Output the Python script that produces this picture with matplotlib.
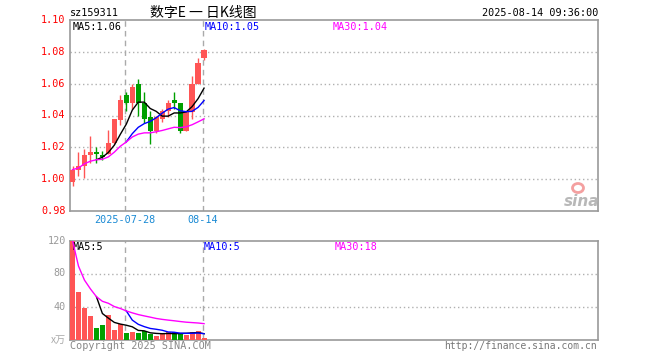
import numpy as np
import matplotlib
matplotlib.use("Agg")
import matplotlib.pyplot as plt
from matplotlib.patches import Ellipse

# daily K data (23 sessions, 2025-07-15 .. 2025-08-14)
opens = [0.998, 1.006, 1.008, 1.015, 1.017, 1.015, 1.016, 1.023, 1.037, 1.053, 1.048, 1.060,
         1.048, 1.039, 1.030, 1.038, 1.043, 1.050, 1.048, 1.030, 1.042, 1.060, 1.076]
closes = [1.006, 1.008, 1.015, 1.017, 1.016, 1.014, 1.023, 1.038, 1.050, 1.048, 1.058, 1.048,
          1.038, 1.030, 1.039, 1.043, 1.048, 1.048, 1.030, 1.042, 1.060, 1.073, 1.081]
highs = [1.008, 1.017, 1.019, 1.027, 1.020, 1.018, 1.031, 1.038, 1.053, 1.055, 1.060, 1.063,
         1.055, 1.043, 1.040, 1.044, 1.050, 1.055, 1.048, 1.043, 1.065, 1.076, 1.082]
lows = [0.996, 1.002, 1.001, 1.010, 1.010, 1.012, 1.016, 1.022, 1.034, 1.043, 1.044, 1.040,
        1.035, 1.022, 1.029, 1.036, 1.039, 1.044, 1.029, 1.030, 1.038, 1.060, 1.075]

# price moving averages (None = not drawn yet)
ma5 = [None] * 4 + [1.0122, 1.0138, 1.0168, 1.0214, 1.0282, 1.0346, 1.0434, 1.0484, 1.0484,
                    1.0444, 1.0426, 1.0396, 1.0396, 1.0416, 1.0416, 1.0422, 1.0456, 1.0506, 1.0572]
ma10 = [None] * 9 + [1.0234, 1.0286, 1.0326, 1.0349, 1.0363, 1.0386, 1.0415, 1.0440, 1.0450,
                     1.0430, 1.0424, 1.0426, 1.0451, 1.0494]
ma30 = [1.006, 1.007, 1.0097, 1.0113, 1.0122, 1.0125, 1.0140, 1.0170, 1.0207, 1.0234, 1.0265,
        1.0283, 1.0291, 1.0291, 1.0298, 1.0306, 1.0316, 1.0326, 1.0324, 1.0329, 1.0342, 1.0360, 1.0379]

# volume (x万)
volumes = [120, 58, 38, 29, 14.5, 18, 30, 12, 19, 7.7, 8.5, 7.7, 9.7, 6.9, 4, 6.9, 8.9, 8.9,
           7.3, 5.7, 9.3, 10.9, 1.6]
vma5 = [None] * 4 + [51.9, 31.5, 25.9, 20.7, 18.7, 17.3, 15.4, 11.0, 10.5, 8.1, 7.4, 7.0, 7.3,
                     7.1, 7.2, 7.5, 8.0, 8.4, 7.0]
vma10 = [None] * 9 + [34.6, 23.5, 18.4, 15.6, 13.4, 12.4, 11.2, 9.1, 8.8, 7.7, 7.5, 7.5, 7.9, 7.0]
vma30 = [120, 89, 72, 61.3, 51.9, 46.3, 43.9, 39.9, 37.6, 34.6, 32.3, 30.2, 28.6, 27.1, 25.5,
         24.4, 23.5, 22.7, 21.8, 21.0, 20.5, 20.0, 19.2]

price_ticks = [0.98, 1.00, 1.02, 1.04, 1.06, 1.08, 1.10]
vol_ticks = [40, 80, 120]
date_labels = {9: "2025-07-28", 22: "08-14"}

RED = "#ff5555"
GREEN = "#00a000"
GRID = "#b0b0b0"
FRAME = "#999999"
MONO = "DejaVu Sans Mono"
CJK = ["Noto Sans CJK SC", "DejaVu Sans"]
FS = 7.3

W, H = 660, 360
fig = plt.figure(figsize=(W / 100, H / 100), dpi=100)


def px_axes(l, t, r, b):
    return fig.add_axes([l / W, 1 - b / H, (r - l) / W, (b - t) / H])


ax = px_axes(70, 20, 598, 211)
axv = px_axes(70, 240.5, 598, 339.5)

n = len(closes)
x = np.arange(n)
step = 5.98
xlim = (-2.5 / step, -2.5 / step + 528 / step)
colors = [RED if c >= o else GREEN for o, c in zip(opens, closes)]

# candles
bottoms = [min(o, c) for o, c in zip(opens, closes)]
heights = [max(abs(c - o), 0.0003) for o, c in zip(opens, closes)]
ax.vlines(x, lows, highs, colors=colors, lw=1, zorder=3)
ax.bar(x, heights, bottom=bottoms, width=0.88, color=colors, lw=0, zorder=4)


def draw_ma(a, vals, col):
    xs = [i for i, v in enumerate(vals) if v is not None]
    ys = [v for v in vals if v is not None]
    a.plot(xs, ys, color=col, lw=1, zorder=5)


draw_ma(ax, ma5, "black")
draw_ma(ax, ma10, "#0000ff")
draw_ma(ax, ma30, "#ff00ff")

ax.set_xlim(*xlim)
ax.set_ylim(0.98, 1.10)
for v in price_ticks[1:-1]:
    ax.axhline(v, color=GRID, lw=1, ls=(0, (1, 2)), zorder=1)

# volume bars
axv.bar(x, volumes, width=0.84, color=colors, lw=0, zorder=3)
draw_ma(axv, vma5, "black")
draw_ma(axv, vma10, "#0000ff")
draw_ma(axv, vma30, "#ff00ff")
axv.set_xlim(*xlim)
axv.set_ylim(0, 120)
for v in vol_ticks[:-1]:
    axv.axhline(v, color=GRID, lw=1, ls=(0, (1, 2)), zorder=1)

for a in (ax, axv):
    for i in date_labels:
        a.axvline(i - 0.25, color="#aaaaaa", lw=1, ls=(0, (4, 3)), zorder=2)
    for s in a.spines.values():
        s.set_color(FRAME)
        s.set_linewidth(1.2)
    a.set_xticks([])
    a.set_yticks([])

# y tick labels
for v in price_ticks:
    ax.text(-0.008, v, f"{v:.2f}", transform=ax.get_yaxis_transform(), ha="right", va="center",
            color="red", fontsize=FS, family=MONO)
for v in vol_ticks:
    axv.text(-0.008, v, f"{v}", transform=axv.get_yaxis_transform(), ha="right", va="center",
             color="#999999", fontsize=FS, family=MONO)
axv.text(-0.008, 0, "x万", transform=axv.get_yaxis_transform(), ha="right", va="center",
         color="#aaaaaa", fontsize=FS, family=CJK)

# date labels under the price chart
for i, lab in date_labels.items():
    ax.text(i - 0.25, -0.045, lab, transform=ax.get_xaxis_transform(), ha="center", va="center",
            color="#1a8ad4", fontsize=FS, family=MONO)

# MA captions
ax.text(3 / 528, 0.962, "MA5:1.06", transform=ax.transAxes, va="center", color="black",
        fontsize=FS, family=MONO)
ax.text(135 / 528, 0.962, "MA10:1.05", transform=ax.transAxes, va="center", color="#0000ff",
        fontsize=FS, family=MONO)
ax.text(263 / 528, 0.962, "MA30:1.04", transform=ax.transAxes, va="center", color="#ff00ff",
        fontsize=FS, family=MONO)
axv.text(3 / 528, 0.93, "MA5:5", transform=axv.transAxes, va="center", color="black",
         fontsize=FS, family=MONO)
axv.text(134 / 528, 0.93, "MA10:5", transform=axv.transAxes, va="center", color="#0000ff",
         fontsize=FS, family=MONO)
axv.text(265 / 528, 0.93, "MA30:18", transform=axv.transAxes, va="center", color="#ff00ff",
         fontsize=FS, family=MONO)

# header
fig.text(70 / W, 1 - 13 / H, "sz159311", ha="left", va="center", fontsize=FS, family=MONO)
fig.text(150 / W, 1 - 13 / H, "数字E 一 日K线图", ha="left", va="center", fontsize=10, family=CJK)
fig.text(598 / W, 1 - 13 / H, "2025-08-14 09:36:00", ha="right", va="center", fontsize=FS,
         family=MONO)

# footer
fig.text(70 / W, 1 - 346 / H, "Copyright 2025 SINA.COM", ha="left", va="center", color="#888888",
         fontsize=FS, family=MONO)
fig.text(597 / W, 1 - 346 / H, "http://finance.sina.com.cn", ha="right", va="center",
         color="#777777", fontsize=7, family=MONO)

# sina watermark
fig.patches.append(Ellipse((578 / W, 1 - 188 / H), 11 / W, 9 / H, transform=fig.transFigure,
                           facecolor="none", edgecolor="#f4a0a0", lw=2))
fig.text(582 / W, 1 - 201 / H, "sina", ha="center", va="center", color="#b8b8b8", fontsize=11,
         fontweight="bold", style="italic", family="DejaVu Sans")

fig.savefig("out.png", dpi=100)
